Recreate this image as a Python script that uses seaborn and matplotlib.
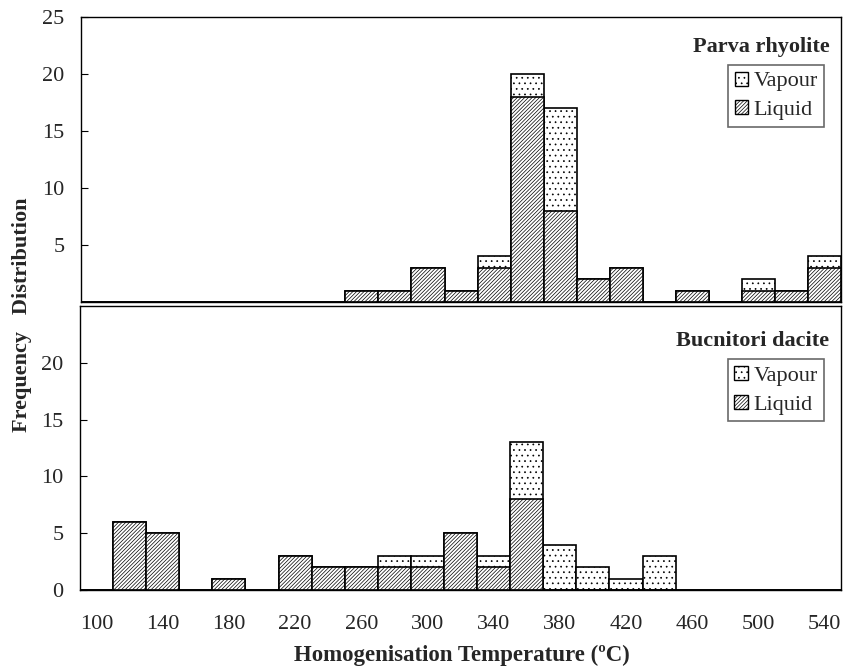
import numpy as np
import pandas as pd
import seaborn as sns
import matplotlib.pyplot as plt
from matplotlib.patches import Patch

sns.set_style('white')
plt.rcParams['font.family'] = ['Liberation Serif', 'DejaVu Serif']
plt.rcParams['hatch.linewidth'] = 0.5

# temperature classes (category axis, 20 degC steps)
temps = [str(t) for t in range(100, 560, 20)]
tick_labels = temps[::2]

# Parva rhyolite counts per class
parva_liquid = [0, 0, 0, 0, 0, 0, 0, 0, 1, 1, 3, 1, 3, 18, 8, 2, 3, 0, 1, 0, 1, 1, 3]
parva_vapour = [0, 0, 0, 0, 0, 0, 0, 0, 0, 0, 0, 0, 1, 2, 9, 0, 0, 0, 0, 0, 1, 0, 1]

# Bucnitori dacite counts per class
bucn_liquid = [0, 6, 5, 0, 1, 0, 3, 2, 2, 2, 2, 5, 2, 8, 0, 0, 0, 0, 0, 0, 0, 0, 0]
bucn_vapour = [0, 0, 0, 0, 0, 0, 0, 0, 0, 1, 1, 0, 1, 5, 4, 2, 1, 3, 0, 0, 0, 0, 0]

liquid_hatch = '/' * 9
vapour_hatch = '...'

fig = plt.figure(figsize=(8.45, 6.69), dpi=100)
ax_top = fig.add_axes([0.0959, 0.5486, 0.8994, 0.426])
ax_bot = fig.add_axes([0.0947, 0.1181, 0.9006, 0.4246])

bar_kw = dict(width=1.0, edgecolor='black', linewidth=1.2, saturation=1)


def draw_panel(ax, liquid, vapour, title, title_y, leg_y):
    df = pd.DataFrame({'temp': temps, 'liquid': liquid,
                       'total': np.array(liquid) + np.array(vapour)})
    # total bar with vapour pattern, liquid drawn over it
    sns.barplot(data=df, x='temp', y='total', order=temps, color='white',
                hatch=vapour_hatch, ax=ax, **bar_kw)
    sns.barplot(data=df, x='temp', y='liquid', order=temps, color='white',
                hatch=liquid_hatch, ax=ax, **bar_kw)
    ax.set_xlim(-0.5, len(temps) - 0.5)
    ax.set_ylim(0, 25)
    ax.set_xlabel('')
    ax.set_ylabel('')
    ax.set_xticks(range(0, len(temps), 2))
    ax.set_xticks(np.arange(-0.5, len(temps), 1.0), minor=True)
    ax.tick_params(axis='x', which='major', length=0, labelsize=16, pad=18)
    ax.tick_params(axis='x', which='minor', direction='in', length=5,
                   width=0.8, color='black')
    ax.tick_params(axis='y', direction='in', length=5, width=0.8,
                   color='black', labelsize=16, pad=12, left=True)
    for s in ax.spines.values():
        s.set_color('black')
        s.set_linewidth(1.0)
    ax.text(0.985, title_y, title, transform=ax.transAxes, ha='right',
            va='center', fontsize=16, fontweight='bold')
    handles = [Patch(facecolor='white', edgecolor='black', hatch=vapour_hatch, label='Vapour'),
               Patch(facecolor='white', edgecolor='black', hatch=liquid_hatch, label='Liquid')]
    leg = ax.legend(handles=handles, loc='upper right', bbox_to_anchor=(0.978, leg_y),
                    fontsize=16, frameon=True, fancybox=False, shadow=False,
                    handlelength=0.6, handleheight=0.6, handletextpad=0.25,
                    borderpad=0.3, labelspacing=0.4, borderaxespad=0)
    leg.get_frame().set_edgecolor('#444444')
    leg.get_frame().set_linewidth(1.2)


draw_panel(ax_top, parva_liquid, parva_vapour, 'Parva rhyolite', 0.895, 0.832)
draw_panel(ax_bot, bucn_liquid, bucn_vapour, 'Bucnitori dacite', 0.878, 0.812)

ax_top.set_xticklabels([])
ax_top.set_yticks([5, 10, 15, 20, 25])
ax_bot.set_xticklabels(tick_labels)
ax_bot.set_yticks([0, 5, 10, 15, 20])

fig.text(0.547, 0.004, 'Homogenisation Temperature (ºC)', ha='center', va='bottom',
         fontsize=16.5, fontweight='bold')
fig.text(0.026, 0.53, 'Frequency   Distribution', rotation=90, ha='center',
         va='center', fontsize=16, fontweight='bold')

fig.savefig('out.png', dpi=100)
